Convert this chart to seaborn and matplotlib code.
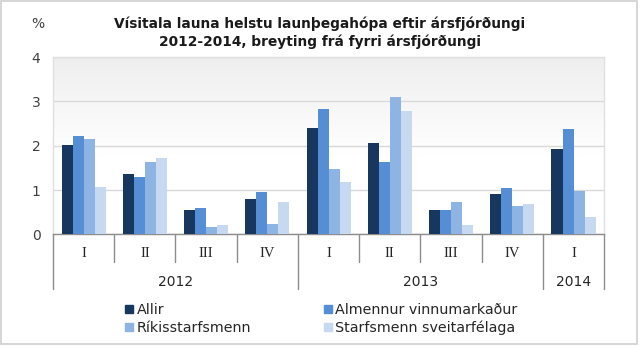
import numpy as np
import pandas as pd
import matplotlib
matplotlib.use("Agg")
import matplotlib.pyplot as plt
import matplotlib.transforms as mtransforms
from matplotlib.patches import Rectangle
from matplotlib.lines import Line2D
import seaborn as sns

# Quarterly change in the wage index, %
quarters = ["I", "II", "III", "IV", "I", "II", "III", "IV", "I"]
years = ["2012", "2013", "2014"]
year_spans = [(0, 4), (4, 8), (8, 9)]
periods = [f"{y}-{q}" for y, q in
           zip(["2012"] * 4 + ["2013"] * 4 + ["2014"], quarters)]

allir = [2.01, 1.36, 0.54, 0.80, 2.40, 2.05, 0.54, 0.92, 1.93]
almennur = [2.22, 1.30, 0.59, 0.95, 2.82, 1.63, 0.54, 1.05, 2.37]
rikis = [2.14, 1.63, 0.17, 0.24, 1.48, 3.10, 0.74, 0.63, 0.98]
sveitar = [1.07, 1.72, 0.21, 0.74, 1.18, 2.79, 0.21, 0.68, 0.39]

groups = ["Allir", "Almennur vinnumarkaður", "Ríkisstarfsmenn",
          "Starfsmenn sveitarfélaga"]
colors = ["#17375E", "#558ED5", "#8EB4E3", "#C6D9F1"]

df = pd.DataFrame({
    "period": periods * 4,
    "group": np.repeat(groups, len(periods)),
    "value": allir + almennur + rikis + sveitar,
})

sns.set_theme(style="white")
plt.rcParams["font.family"] = ["DejaVu Sans"]

fig = plt.figure(figsize=(6.4, 3.46), dpi=100)
ax = fig.add_axes([0.0828, 0.3228, 0.8612, 0.5122])

# soft grey-to-white gradient behind the bars
grad = np.linspace(0.935, 1.0, 256).reshape(-1, 1)
ax.imshow(np.dstack([grad, grad, grad]), extent=[0, 1, 0.45, 1],
          transform=ax.transAxes, aspect="auto", zorder=0,
          interpolation="bilinear")

sns.barplot(data=df, x="period", y="value", hue="group", order=periods,
            hue_order=groups, palette=colors, saturation=1, width=0.72,
            linewidth=0, edgecolor="none", ax=ax, legend=False, zorder=3)

ax.set_xlim(-0.5, len(periods) - 0.5)
ax.set_ylim(0, 4)
ax.set_yticks([0, 1, 2, 3, 4])
ax.set_yticklabels(["0", "1", "2", "3", "4"], fontsize=10, color="#404040")
ax.tick_params(axis="y", length=0, pad=9)
ax.set_xticks([])
ax.set_xlabel("")
ax.set_ylabel("")
ax.yaxis.grid(True, color="#d9d9d9", linewidth=1)
ax.set_axisbelow(True)
for side in ["top", "right", "left"]:
    ax.spines[side].set_color("#e0e0e0")
    ax.spines[side].set_linewidth(1)
ax.spines["bottom"].set_color("#8c8c8c")
ax.spines["bottom"].set_linewidth(1)

# two-level category axis
trans = mtransforms.blended_transform_factory(ax.transData, ax.transAxes)
year_edges = {0, 4, 8, 9}
for k in range(len(periods) + 1):
    y_end = -0.308 if k in year_edges else -0.156
    ax.plot([k - 0.5, k - 0.5], [0, y_end], transform=trans, color="#8c8c8c",
            linewidth=1, clip_on=False, zorder=5)
for i, q in enumerate(quarters):
    ax.text(i, -0.11, q, transform=trans, ha="center", va="center",
            fontsize=10.5, family="Liberation Serif", color="#262626")
for (a, b), y in zip(year_spans, years):
    ax.text((a + b - 1) / 2, -0.268, y, transform=trans, ha="center",
            va="center", fontsize=10, color="#262626")

fig.text(0.059, 0.93, "%", ha="center", va="center", fontsize=10,
         color="#404040")
fig.text(0.5, 0.905,
         "Vísitala launa helstu launþegahópa eftir ársfjórðungi\n"
         "2012-2014, breyting frá fyrri ársfjórðungi",
         ha="center", va="center", fontsize=9.9, fontweight="bold",
         color="#1a1a1a", linespacing=1.3)

# legend filled column by column, so order gives two rows of two
order = [0, 2, 1, 3]
handles = [Line2D([], [], marker="s", linestyle="none", markersize=6,
                  markerfacecolor=colors[i], markeredgecolor=colors[i])
           for i in order]
fig.legend(handles, [groups[i] for i in order], ncol=2, loc="center left",
           bbox_to_anchor=(0.172, 0.077), frameon=False, fontsize=10.3,
           handletextpad=0.15, columnspacing=4.95, labelspacing=0.25,
           handlelength=0.8, labelcolor="#262626")

fig.patches.append(Rectangle((0.002, 0.006), 0.993, 0.99,
                             transform=fig.transFigure, fill=False,
                             edgecolor="#d0d0d0", linewidth=1.2))

fig.savefig("out.png", dpi=100)
